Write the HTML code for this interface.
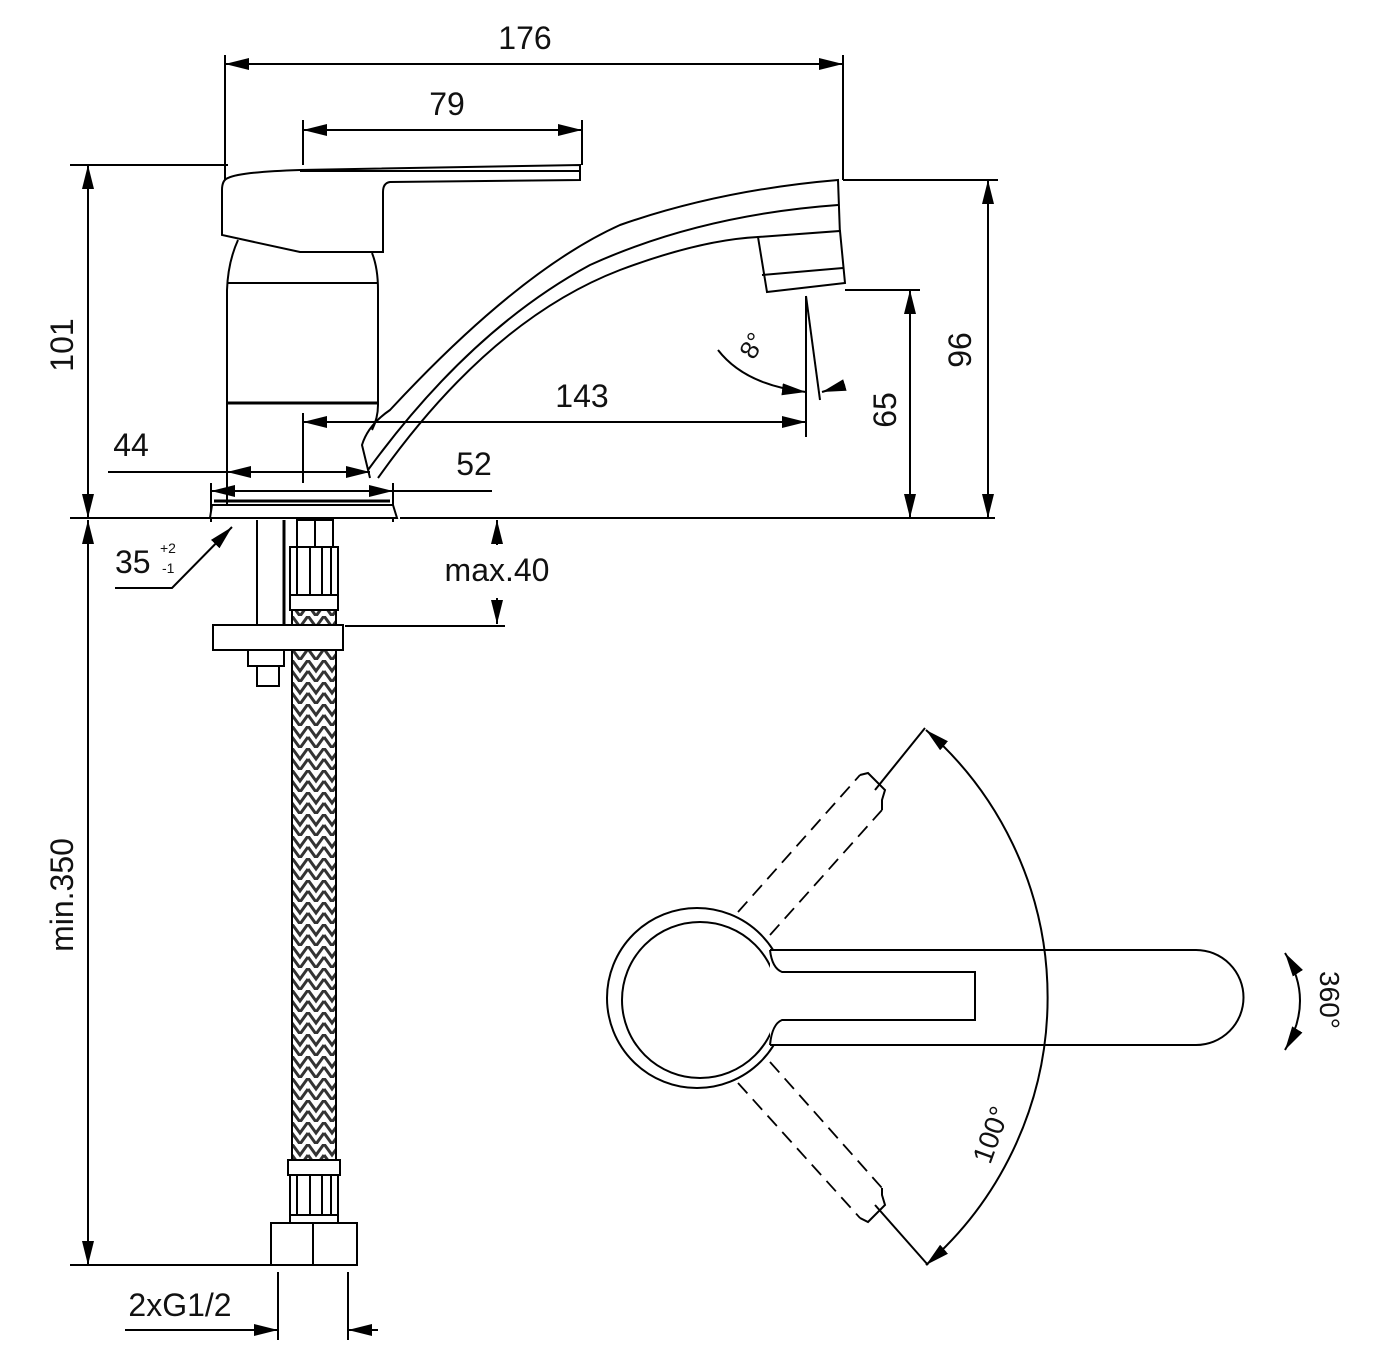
<!DOCTYPE html>
<html><head><meta charset="utf-8"><style>
html,body{margin:0;padding:0;background:#fff}
svg{display:block}
text{font-family:"Liberation Sans",sans-serif;fill:#111}
</style></head><body>
<svg width="1380" height="1360" viewBox="0 0 1380 1360" xmlns="http://www.w3.org/2000/svg">
<defs>
<marker id="a" viewBox="0 0 24 12" refX="24" refY="6" markerWidth="24" markerHeight="12" markerUnits="userSpaceOnUse" orient="auto-start-reverse"><path d="M0,0 L24,6 L0,12 Z" fill="#000"/></marker>
<pattern id="br" width="16" height="22" patternUnits="userSpaceOnUse" x="292" y="0">
<rect width="16" height="22" fill="#fff"/>
<path d="M0,0 L8,11 L16,0 M0,11 L8,22 L16,11" stroke="#333" stroke-width="3" fill="none"/>
</pattern>
</defs>
<g stroke="#000" stroke-width="2" fill="none">
<line x1="225" y1="55" x2="225" y2="180"/><line x1="843" y1="55" x2="843" y2="180"/>
<line x1="225" y1="64" x2="843" y2="64" marker-start="url(#a)" marker-end="url(#a)"/>
<line x1="303" y1="120" x2="303" y2="165"/><line x1="582" y1="120" x2="582" y2="165"/>
<line x1="303" y1="130" x2="582" y2="130" marker-start="url(#a)" marker-end="url(#a)"/>
<line x1="70" y1="165" x2="228" y2="165"/>
<line x1="88" y1="165" x2="88" y2="518" marker-start="url(#a)" marker-end="url(#a)"/>
<line x1="70" y1="518" x2="210" y2="518"/><line x1="400" y1="518" x2="995" y2="518"/>
<line x1="843" y1="180" x2="998" y2="180"/>
<line x1="988" y1="180" x2="988" y2="518" marker-start="url(#a)" marker-end="url(#a)"/>
<line x1="845" y1="290" x2="920" y2="290"/>
<line x1="910" y1="290" x2="910" y2="518" marker-start="url(#a)" marker-end="url(#a)"/>
<line x1="303" y1="413" x2="303" y2="483"/>
<line x1="806" y1="296" x2="806" y2="437"/>
<line x1="303" y1="422" x2="806" y2="422" marker-start="url(#a)" marker-end="url(#a)"/>
<line x1="806" y1="296" x2="820" y2="400"/>
<path d="M718,350 Q745,385 806,392" marker-end="url(#a)"/>
<line x1="845" y1="385" x2="822" y2="392" marker-end="url(#a)"/>
<line x1="108" y1="472" x2="227" y2="472"/>
<line x1="227" y1="472" x2="370" y2="472" marker-start="url(#a)" marker-end="url(#a)"/>
<line x1="211" y1="483" x2="211" y2="522"/><line x1="393" y1="483" x2="393" y2="522"/>
<line x1="211" y1="491" x2="393" y2="491" marker-start="url(#a)" marker-end="url(#a)"/>
<line x1="393" y1="491" x2="492" y2="491"/>
<line x1="497" y1="545" x2="497" y2="520" marker-end="url(#a)"/>
<line x1="497" y1="598" x2="497" y2="624" marker-end="url(#a)"/>
<line x1="345" y1="626" x2="505" y2="626"/>
<polyline points="115,588 172,588 232,527" marker-end="url(#a)"/>
<line x1="88" y1="520" x2="88" y2="1265" marker-start="url(#a)" marker-end="url(#a)"/>
<line x1="70" y1="1265" x2="272" y2="1265"/>
<line x1="278" y1="1272" x2="278" y2="1340"/><line x1="348" y1="1272" x2="348" y2="1340"/>
<line x1="125" y1="1330" x2="278" y2="1330" marker-end="url(#a)"/>
<line x1="378" y1="1330" x2="348" y2="1330" marker-end="url(#a)"/>

<path d="M228,178 Q240,172 300,170 L580,165 L580,180 L390,182 Q383,183 383,192 L383,252 L300,252 L222,235 L222,190 Q222,180 228,178 Z" fill="#fff"/>
<line x1="300" y1="171" x2="580" y2="171"/>
<path d="M238,240 Q228,262 227,290 L227,505"/>
<path d="M372,253 Q378,268 378,290 L378,405 Q378,418 372,430"/>
<line x1="227" y1="283" x2="378" y2="283"/>
<line x1="227" y1="403" x2="378" y2="403" stroke-width="3"/>
<path d="M370,478 L362,445 Q368,425 390,410 Q520,270 620,225 Q720,190 838,180 L840,235 Q800,240 760,237"/>
<path d="M368,470 Q470,330 590,265 Q700,215 838,205"/>
<path d="M378,478 Q490,320 620,270 Q700,240 758,237"/>
<path d="M758,237 L840,231 L845,283 L767,292 Z" fill="#fff"/>
<line x1="762" y1="275" x2="843" y2="268"/>
<path d="M212,505 L393,505 L397,518 L210,518 Z" fill="#fff"/>
<line x1="214" y1="501" x2="390" y2="501" stroke-width="3"/>
<line x1="257" y1="520" x2="257" y2="625"/><line x1="284" y1="520" x2="284" y2="625" stroke-width="3"/>
<rect x="297" y="520" width="36" height="27"/><line x1="315" y1="520" x2="315" y2="547"/>
<rect x="290" y="547" width="48" height="48"/>
<line x1="297" y1="547" x2="297" y2="595"/><line x1="310" y1="547" x2="310" y2="595"/><line x1="322" y1="547" x2="322" y2="595"/><line x1="331" y1="547" x2="331" y2="595"/>
<rect x="290" y="595" width="48" height="15"/>
<rect x="292" y="610" width="44" height="15" fill="url(#br)"/>
<rect x="213" y="625" width="130" height="25" fill="#fff"/>
<rect x="248" y="650" width="36" height="16"/><rect x="257" y="666" width="22" height="20"/>
<rect x="292" y="650" width="44" height="510" fill="url(#br)" stroke-width="2"/>
<rect x="288" y="1160" width="52" height="15" fill="#fff"/>
<rect x="290" y="1175" width="48" height="40"/>
<line x1="297" y1="1175" x2="297" y2="1215"/><line x1="310" y1="1175" x2="310" y2="1215"/><line x1="322" y1="1175" x2="322" y2="1215"/><line x1="331" y1="1175" x2="331" y2="1215"/>
<rect x="290" y="1215" width="48" height="8"/>
<rect x="271" y="1223" width="86" height="42" fill="#fff"/><line x1="313" y1="1223" x2="313" y2="1265"/>

<circle cx="697" cy="998" r="90"/>
<circle cx="700" cy="1000" r="78"/>
<path d="M770,950 L1196,950 A47,47 0 0 1 1196,1045 L770,1045" fill="#fff" stroke="none"/>
<path d="M770,950 L1196,950 A47,47 0 0 1 1196,1045 L770,1045"/>
<path d="M770,950 Q772,968 782,972 L975,972 L975,1020 L782,1020 Q772,1024 770,1045"/>
<g stroke-dasharray="14,8" stroke-width="1.8">
<line x1="738" y1="912" x2="860" y2="775"/><line x1="770" y1="935" x2="882" y2="810"/>
<line x1="738" y1="1083" x2="860" y2="1218"/><line x1="770" y1="1062" x2="882" y2="1188"/>
</g>
<path d="M860,775 L868,773 L885,790 L882,800 L882,810"/>
<path d="M860,1218 L868,1222 L885,1205 L882,1195 L882,1188"/>
<line x1="875" y1="790" x2="925" y2="728"/><line x1="875" y1="1205" x2="928" y2="1265"/>
<path d="M926,730 A355,355 0 0 1 926,1265" marker-start="url(#a)" marker-end="url(#a)"/>
<path d="M1285,953 Q1315,1000 1285,1050" marker-start="url(#a)" marker-end="url(#a)"/>
</g>
<text x="525" y="49" font-size="32" text-anchor="middle">176</text>
<text x="447" y="115" font-size="32" text-anchor="middle">79</text>
<text x="582" y="407" font-size="32" text-anchor="middle">143</text>
<text x="131" y="456" font-size="32" text-anchor="middle">44</text>
<text x="474" y="475" font-size="32" text-anchor="middle">52</text>
<text x="115" y="573" font-size="32">35</text>
<text x="160" y="553" font-size="14">+2</text>
<text x="162" y="573" font-size="14">-1</text>
<text x="497" y="581" font-size="32" text-anchor="middle">max.40</text>
<text x="180" y="1316" font-size="32" text-anchor="middle">2xG1/2</text>
<text transform="translate(73,345) rotate(-90)" font-size="32" text-anchor="middle">101</text>
<text transform="translate(73,895) rotate(-90)" font-size="32" text-anchor="middle">min.350</text>
<text transform="translate(971,350) rotate(-90)" font-size="32" text-anchor="middle">96</text>
<text transform="translate(896,410) rotate(-90)" font-size="32" text-anchor="middle">65</text>
<text transform="translate(760,350) rotate(-60)" font-size="26" text-anchor="middle">8°</text>
<text transform="translate(1000,1138) rotate(-70)" font-size="28" text-anchor="middle">100°</text>
<text transform="translate(1320,1000) rotate(90)" font-size="28" text-anchor="middle">360°</text>
</svg>
</body></html>
